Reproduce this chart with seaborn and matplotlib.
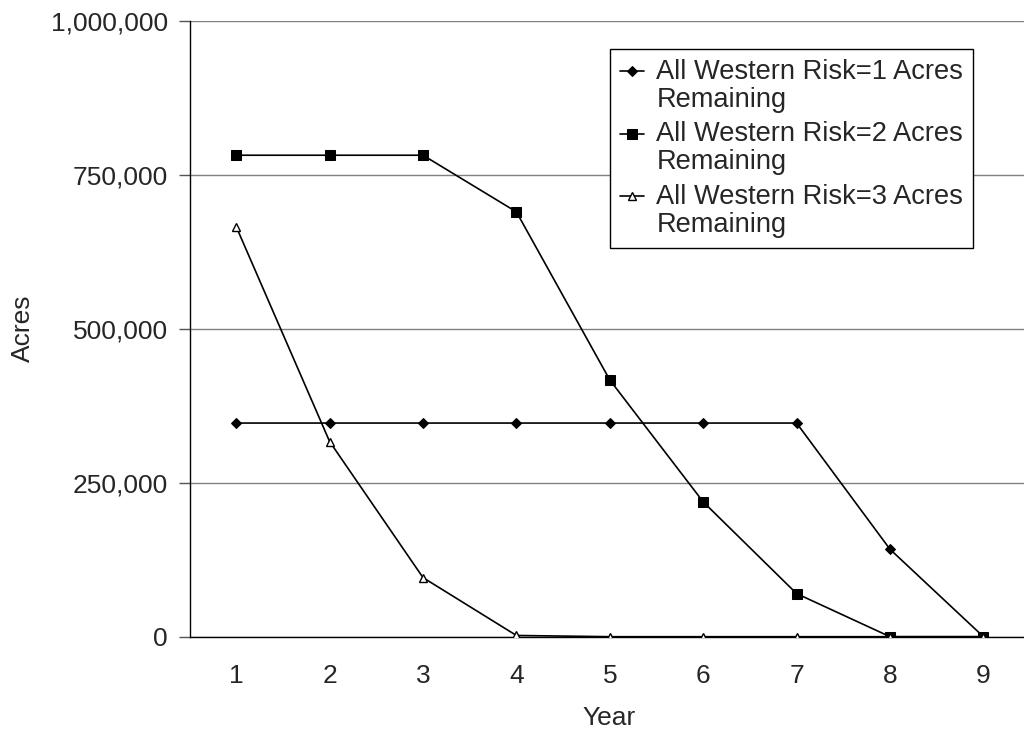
# importing libraries
import numpy as np
import pandas as pd
import matplotlib
matplotlib.use('Agg')
import matplotlib.pyplot as plt
import seaborn as sns
from matplotlib.ticker import FuncFormatter, FixedLocator
from matplotlib.legend_handler import HandlerLine2D

# data
years = [1, 2, 3, 4, 5, 6, 7, 8, 9]
risk1_acres = [347000, 347000, 347000, 347000, 347000, 347000, 347000, 142000, 0]
risk2_acres = [782000, 782000, 782000, 690000, 417000, 219000, 70000, 0, 0]
risk3_acres = [666000, 317000, 96000, 2000, 0, 0, 0, 0, 0]
series_labels = ['All Western Risk=1 Acres\nRemaining',
                 'All Western Risk=2 Acres\nRemaining',
                 'All Western Risk=3 Acres\nRemaining']
y_ticks = [0, 250000, 500000, 750000, 1000000]

# style
sns.set_style('white')
plt.rcParams['font.family'] = ['Liberation Sans', 'DejaVu Sans']
fs = 19
leg_fs = 19.6
leg_linespacing = 1.12


# legend handle sits on the first line of the two-line label
class FirstLineHandler(HandlerLine2D):
    def create_artists(self, legend, orig_handle, xdescent, ydescent, width, height, fontsize, trans):
        artists = super().create_artists(legend, orig_handle, xdescent, ydescent, width, height, fontsize, trans)
        for a in artists:
            a.set_ydata(np.asarray(a.get_ydata()) + 0.5 * leg_linespacing * fontsize)
        return artists


fig = plt.figure(figsize=(10.24, 7.36), dpi=100)
ax = fig.add_axes([189.5 / 1024, 1 - 636.7 / 736, 1 - 189.5 / 1024, (636.7 - 21) / 736])

# 3 lines
sns.lineplot(x=years, y=risk1_acres, ax=ax, color='black', lw=1.2, marker='D', ms=5.5,
             mfc='black', mec='black', label=series_labels[0], zorder=3)
sns.lineplot(x=years, y=risk2_acres, ax=ax, color='black', lw=1.2, marker='s', ms=6.5,
             mfc='black', mec='black', label=series_labels[1], zorder=3)
sns.lineplot(x=years, y=risk3_acres, ax=ax, color='black', lw=1.2, marker='^', ms=6,
             mfc='white', mec='black', mew=1, label=series_labels[2], zorder=4)

# axes limits and ticks
ax.set_ylim(0, 1000000)
ax.set_xlim(0.5, 0.5 + (1024 - 189.5) / 93.4)
ax.yaxis.set_major_locator(FixedLocator(y_ticks))
ax.yaxis.set_major_formatter(FuncFormatter(lambda v, p: f'{v:,.0f}'))
ax.xaxis.set_major_locator(FixedLocator(years))
ax.xaxis.set_minor_locator(FixedLocator(np.arange(0.5, 9.6, 1.0)))
ax.tick_params(axis='x', which='major', length=0, pad=20, labelsize=fs)
ax.tick_params(axis='x', which='minor', length=8, width=1, direction='out', color='black')
ax.tick_params(axis='y', which='major', length=8, width=1, direction='out', color='#555555',
               pad=7.5, labelsize=fs, left=True)

# grid and spines
ax.yaxis.grid(True, color='#808080', lw=1)
ax.xaxis.grid(False)
ax.set_axisbelow(True)
for s in ['top', 'right']:
    ax.spines[s].set_visible(False)
ax.spines['left'].set_color('black')
ax.spines['bottom'].set_color('black')
ax.spines['left'].set_linewidth(1)
ax.spines['bottom'].set_linewidth(1)
ax.set_xlabel('')
ax.set_ylabel('')

# axis titles
fig.text(22.7 / 1024, 1 - 328 / 736, 'Acres', rotation=90, ha='center', va='center', fontsize=fs)
fig.text(609 / 1024, 1 - 718 / 736, 'Year', ha='center', va='center', fontsize=fs)

# legend
handles, labels = ax.get_legend_handles_labels()
leg = ax.legend(handles, labels, loc='upper left', bbox_to_anchor=(610 / 1024, 1 - 49 / 736),
                bbox_transform=fig.transFigure, fontsize=leg_fs, frameon=True, fancybox=False,
                handlelength=0.9, handletextpad=0.45, borderpad=0.35, labelspacing=0.3,
                borderaxespad=0, handler_map={h: FirstLineHandler() for h in handles})
leg.get_frame().set_edgecolor('black')
leg.get_frame().set_linewidth(1)
leg.get_frame().set_alpha(1)
for t in leg.get_texts():
    t.set_linespacing(leg_linespacing)

plt.savefig('out.png', dpi=100)
